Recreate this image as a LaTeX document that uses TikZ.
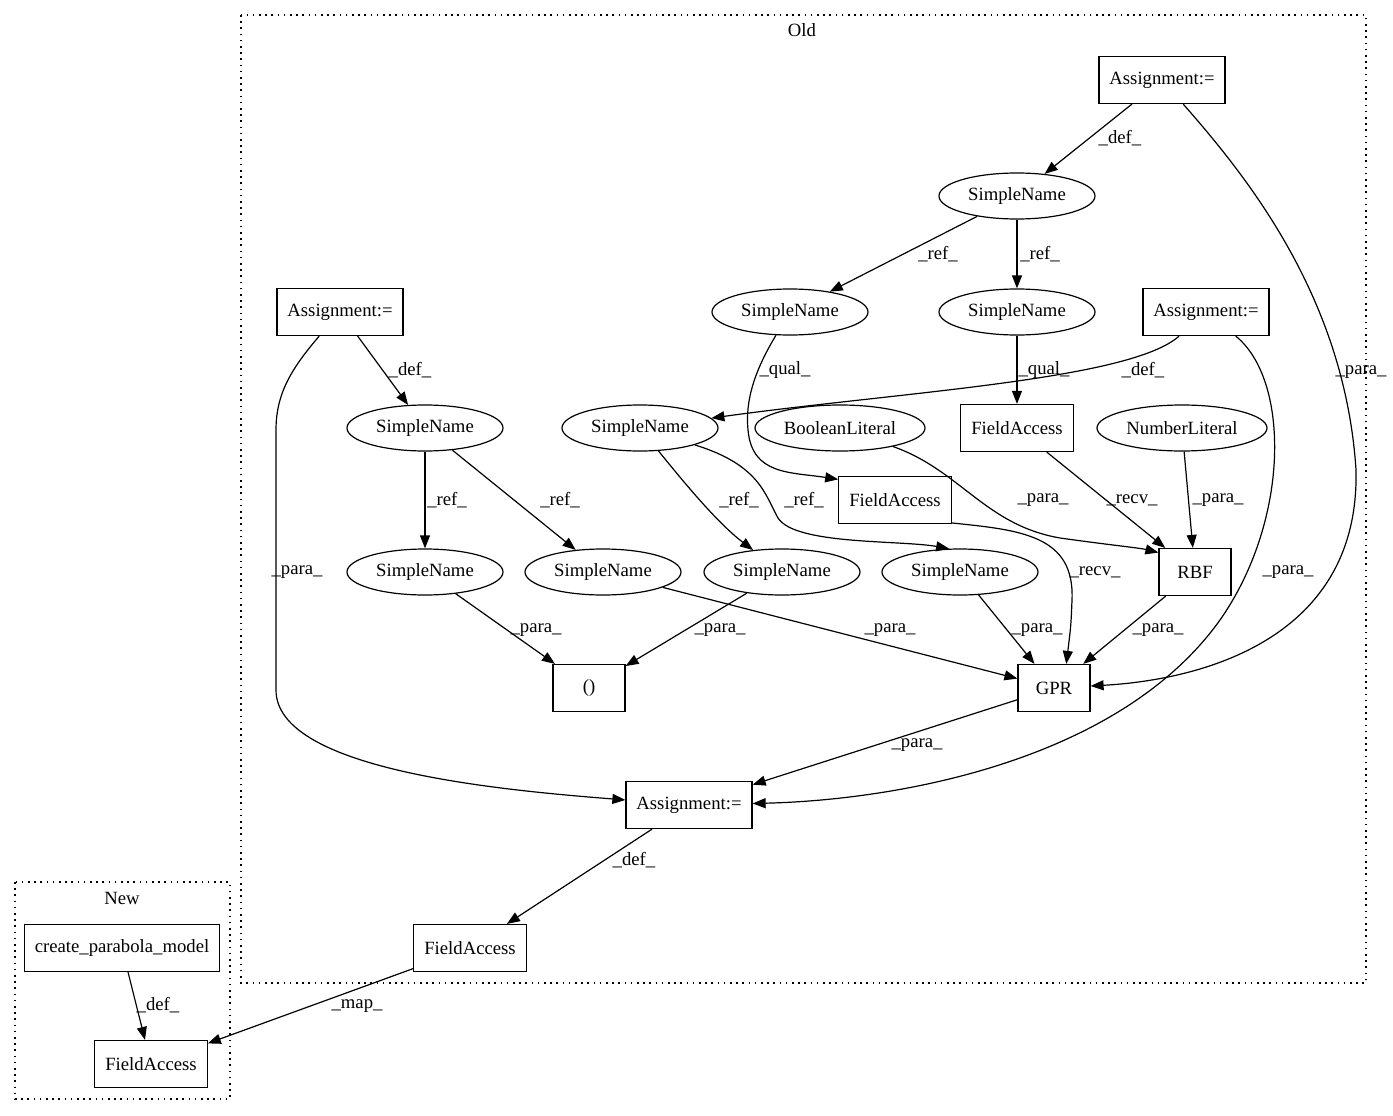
\documentclass[tikz,border=0pt]{standalone}
\usepackage{fontspec}
\setmainfont{Liberation Serif}
\usetikzlibrary{arrows.meta,shapes.geometric}

\begin{document}
\begin{tikzpicture}[x=1pt,y=-1pt,
    every node/.style={font=\fontsize{18.7}{21}\selectfont},
    box/.style={draw,line width=1.2pt,rectangle,minimum width=72pt,minimum height=47pt,inner xsep=10.5pt},
    sname/.style={draw,line width=1.2pt,ellipse,minimum width=156pt,minimum height=46pt,inner sep=0pt},
    lit/.style={sname,minimum width=170pt},
    edge/.style={draw,line width=1.2pt,-{Triangle[length=13pt,width=10pt]}},
    lbl/.style={inner sep=0pt},
    clus/.style={draw,line width=1.2pt,dash pattern=on 1.6pt off 4.6pt}]
  \useasboundingbox (0,0) rectangle (1393,1116);
  % clusters
  \draw[clus] (241,15) rectangle (1366,983);
  \node[lbl] (oldlab) at (802,30) {Old};
  \draw[clus] (15,882) rectangle (230,1099);
  \node[lbl] (newlab) at (122,898) {New};
  % nodes of Old
  \node[box] (asg1) at (1162,80) {Assignment:=};
  \node[sname] (sn1) at (1017,196) {SimpleName};
  \node[sname] (sn2) at (790,312) {SimpleName};
  \node[sname] (sn3) at (1017,312) {SimpleName};
  \node[box] (asg2) at (340,312) {Assignment:=};
  \node[box] (asg3) at (1206,312) {Assignment:=};
  \node[sname] (sn4) at (425,428) {SimpleName};
  \node[sname] (sn5) at (640,428) {SimpleName};
  \node[lit] (boollit) at (840,428) {BooleanLiteral};
  \node[box] (fa1) at (1017,428) {FieldAccess};
  \node[lit] (numlit) at (1182,428) {NumberLiteral};
  \node[box] (fa2) at (895,500) {FieldAccess};
  \node[sname] (sn6) at (425,572) {SimpleName};
  \node[sname] (sn7) at (603,572) {SimpleName};
  \node[sname] (sn8) at (782,572) {SimpleName};
  \node[sname] (sn9) at (960,572) {SimpleName};
  \node[box] (rbf) at (1195,572) {RBF};
  \node[box] (call) at (589,688) {()};
  \node[box] (gpr) at (1054,688) {GPR};
  \node[box] (asg4) at (689,805) {Assignment:=};
  \node[box] (fa3) at (470,948) {FieldAccess};
  % nodes of New
  \node[box] (create) at (122,948) {create\_parabola\_model};
  \node[box] (fa4) at (151,1064) {FieldAccess};
  % edges
  \draw[edge] (asg1) -- (sn1);
  \node[lbl] (l1) at (1120,138) {\_def\_};
  \draw[edge] (asg1) .. controls (1250,180) and (1345,300) .. (1356,470) .. controls (1360,640) and (1200,680) .. (gpr);
  \node[lbl] (l2) at (1361,372) {\_para\_};
  \draw[edge] (sn1) -- (sn2);
  \node[lbl] (l3) at (938,254) {\_ref\_};
  \draw[edge] (sn1) -- (sn3);
  \node[lbl] (l4) at (1040,254) {\_ref\_};
  \draw[edge] (sn2) .. controls (755,370) and (745,400) .. (748,430) .. controls (752,475) and (790,472) .. (fa2.160);
  \node[lbl] (l5) at (785,370) {\_qual\_};
  \draw[edge] (sn3) -- (fa1);
  \node[lbl] (l6) at (1044,370) {\_qual\_};
  \draw[edge] (asg3) .. controls (1130,380) and (900,392) .. (sn5);
  \node[lbl] (l7) at (1143,370) {\_def\_};
  \draw[edge] (asg3) .. controls (1290,380) and (1290,520) .. (1220,620) .. controls (1120,760) and (900,800) .. (asg4);
  \node[lbl] (l8) at (1288,572) {\_para\_};
  \draw[edge] (asg2) -- (sn4);
  \node[lbl] (l9) at (410,370) {\_def\_};
  \draw[edge] (asg2) .. controls (290,370) and (276,395) .. (276,430) -- (276,690) .. controls (276,770) and (500,790) .. (asg4);
  \node[lbl] (l10) at (297,572) {\_para\_};
  \draw[edge] (sn4) -- (sn6);
  \node[lbl] (l11) at (447,500) {\_ref\_};
  \draw[edge] (sn4) -- (sn7);
  \node[lbl] (l12) at (560,500) {\_ref\_};
  \draw[edge] (sn5) .. controls (690,490) and (720,525) .. (sn8);
  \node[lbl] (l13) at (739,500) {\_ref\_};
  \draw[edge] (sn5) .. controls (760,465) and (765,495) .. (778,518) .. controls (795,545) and (900,540) .. (sn9.115);
  \node[lbl] (l14) at (804,500) {\_ref\_};
  \draw[edge] (boollit) .. controls (960,470) and (985,525) .. (1060,538) .. controls (1110,545) and (1140,548) .. (rbf.152);
  \node[lbl] (l15) at (1043,500) {\_para\_};
  \draw[edge] (fa1) -- (rbf);
  \node[lbl] (l16) at (1132,500) {\_recv\_};
  \draw[edge] (numlit) -- (rbf);
  \node[lbl] (l17) at (1218,500) {\_para\_};
  \draw[edge] (fa2.-22) .. controls (1020,530) and (1075,535) .. (1072,600) .. controls (1071,625) .. (gpr.63);
  \node[lbl] (l18) at (1095,572) {\_recv\_};
  \draw[edge] (sn6) -- (call);
  \node[lbl] (l19) at (536,630) {\_para\_};
  \draw[edge] (sn8) -- (call);
  \node[lbl] (l20) at (720,630) {\_para\_};
  \draw[edge] (sn7) -- (gpr);
  \node[lbl] (l21) at (890,630) {\_para\_};
  \draw[edge] (sn9) -- (gpr);
  \node[lbl] (l22) at (1037,630) {\_para\_};
  \draw[edge] (rbf) -- (gpr);
  \node[lbl] (l23) at (1158,630) {\_para\_};
  \draw[edge] (gpr) -- (asg4);
  \node[lbl] (l24) at (917,745) {\_para\_};
  \draw[edge] (asg4) -- (fa3);
  \node[lbl] (l25) at (634,860) {\_def\_};
  \draw[edge] (fa3) -- (fa4);
  \node[lbl] (l26) at (357,1006) {\_map\_};
  \draw[edge] (create) -- (fa4);
  \node[lbl] (l27) at (158,1005) {\_def\_};
\end{tikzpicture}
\end{document}
